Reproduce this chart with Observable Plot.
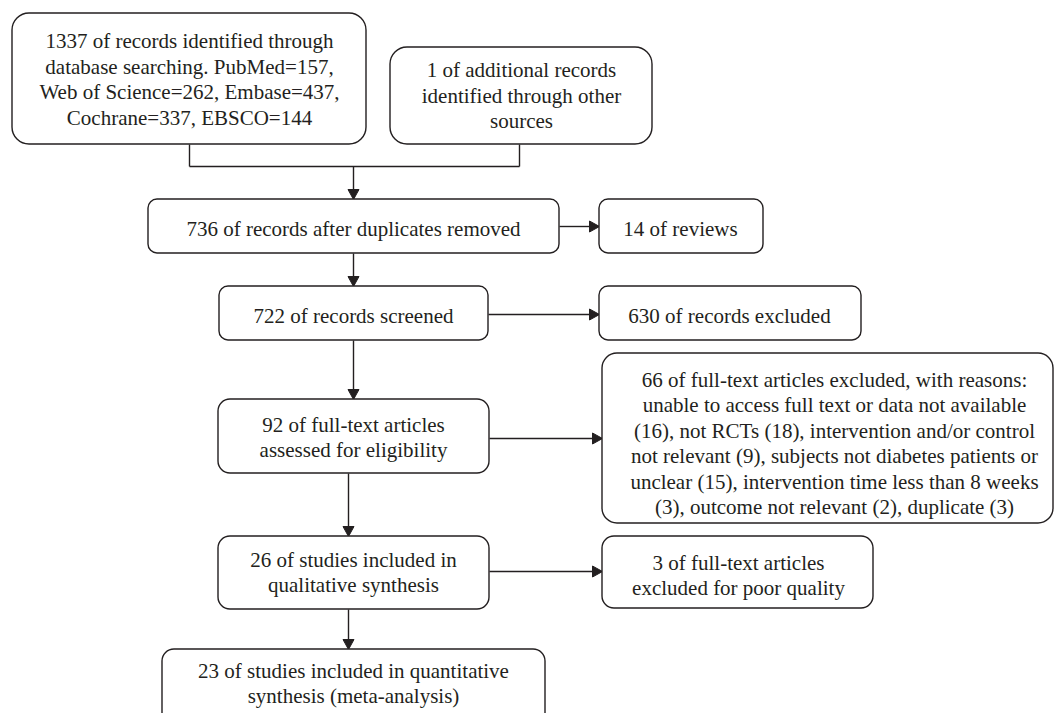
<!DOCTYPE html>
<html>
<head>
<meta charset="utf-8">
<script src="https://cdn.jsdelivr.net/npm/d3@7"></script>
<script src="https://cdn.jsdelivr.net/npm/@observablehq/plot@0.6"></script>
<style>
  html, body { margin: 0; padding: 0; background: #fff; overflow: hidden; }
  #chart svg { display: block; }
</style>
</head>
<body>
<div id="chart"></div>
<script>
// ---- data: PRISMA counts and their labels ----
const boxIds = ["db", "other", "dedup", "reviews", "screened", "excluded", "fulltext", "ftExcluded", "qual", "poor", "quant"];
const boxCounts = [1337, 1, 736, 14, 722, 630, 92, 66, 26, 3, 23];
const boxLines = [
  ["{n} of records identified through", "database searching. PubMed=157,", "Web of Science=262, Embase=437,", "Cochrane=337, EBSCO=144"],
  ["{n} of additional records", "identified through other", "sources"],
  ["{n} of records after duplicates removed"],
  ["{n} of reviews"],
  ["{n} of records screened"],
  ["{n} of records excluded"],
  ["{n} of full-text articles", "assessed for eligibility"],
  ["{n} of full-text articles excluded, with reasons:", "unable to access full text or data not available", "(16), not RCTs (18), intervention and/or control", "not relevant (9), subjects not diabetes patients or", "unclear (15), intervention time less than 8 weeks", "(3), outcome not relevant (2), duplicate (3)"],
  ["{n} of studies included in", "qualitative synthesis"],
  ["{n} of full-text articles", "excluded for poor quality"],
  ["{n} of studies included in quantitative", "synthesis (meta-analysis)"]
];

// ---- layout (diagram units) ----
const boxX1 = [12, 390, 148, 599, 219, 599, 218, 602, 218, 602, 162];
const boxX2 = [366, 652, 559, 763, 488, 861, 489, 1053, 489, 873, 545];
const boxY1 = [13, 47, 199, 199, 286, 286, 399, 353, 536, 536, 649];
const boxY2 = [144, 144, 253, 253, 340, 340, 473, 523, 609, 608, 730];
const boxRound = [17, 17, 9, 9, 9, 9, 12, 15, 12, 12, 12];
const textX = [189, 521, 353, 680, 353, 729, 353, 834, 353, 738, 353];
const textY = [78, 94, 227, 227, 314, 314, 436, 442, 571, 574, 682];

// plain connector segments (no head)
const segFrom = [[189, 144], [189, 166], [519, 166]];
const segTo   = [[189, 166], [519, 166], [519, 144]];
// arrows: [from, to]
const arrowFrom = [[353, 166], [559, 226], [353, 253], [488, 314], [353, 340], [489, 438], [348, 473], [489, 571], [348, 609]];
const arrowTo   = [[353, 199], [599, 226], [353, 286], [599, 314], [353, 399], [602, 438], [348, 536], [602, 571], [348, 649]];

// ---- build tables ----
const boxes = boxIds.map((id, i) => ({
  id, x1: boxX1[i], x2: boxX2[i], y1: boxY1[i], y2: boxY2[i], r: boxRound[i],
  tx: textX[i], ty: textY[i],
  text: boxLines[i].join("\n").replace("{n}", boxCounts[i])
}));

const headLen = 10, headHalf = 5.5;
const shafts = [];
const heads = [];
segFrom.forEach((f, i) => shafts.push({x1: f[0], y1: f[1], x2: segTo[i][0], y2: segTo[i][1]}));
arrowFrom.forEach((f, i) => {
  const t = arrowTo[i];
  const dx = t[0] - f[0], dy = t[1] - f[1];
  const L = Math.hypot(dx, dy), ux = dx / L, uy = dy / L;
  const bx = t[0] - ux * headLen, by = t[1] - uy * headLen;
  shafts.push({x1: f[0], y1: f[1], x2: bx, y2: by});
  const px = -uy, py = ux;
  heads.push({k: i, x: t[0], y: t[1]});
  heads.push({k: i, x: bx + px * headHalf, y: by + py * headHalf});
  heads.push({k: i, x: bx - px * headHalf, y: by - py * headHalf});
  heads.push({k: i, x: t[0], y: t[1]});
});

const ink = "#231f20";
const font = "'Liberation Serif', 'Times New Roman', serif";

const rectMarks = [...new Set(boxRound)].map(r =>
  Plot.rect(boxes.filter(d => d.r === r), {
    x1: "x1", x2: "x2", y1: "y1", y2: "y2",
    rx: r, ry: r, fill: "white", stroke: ink, strokeWidth: 1.4, clip: true
  })
);

const chart = Plot.plot({
  width: 1055,
  height: 713,
  margin: 0,
  style: {background: "white"},
  x: {domain: [0, 1055], range: [0, 1055], axis: null},
  y: {domain: [0, 713], range: [0, 713], axis: null},
  marks: [
    Plot.link(shafts, {x1: "x1", y1: "y1", x2: "x2", y2: "y2", stroke: ink, strokeWidth: 1.4}),
    Plot.line(heads, {x: "x", y: "y", z: "k", fill: ink, stroke: ink, strokeWidth: 1}),
    ...rectMarks,
    Plot.text(boxes, {
      x: "tx", y: "ty", text: "text",
      fontSize: 21, lineHeight: 1.215, fontFamily: font, fill: ink,
      textAnchor: "middle", lineAnchor: "middle"
    })
  ]
});
document.getElementById("chart").appendChild(chart);
</script>
</body>
</html>
